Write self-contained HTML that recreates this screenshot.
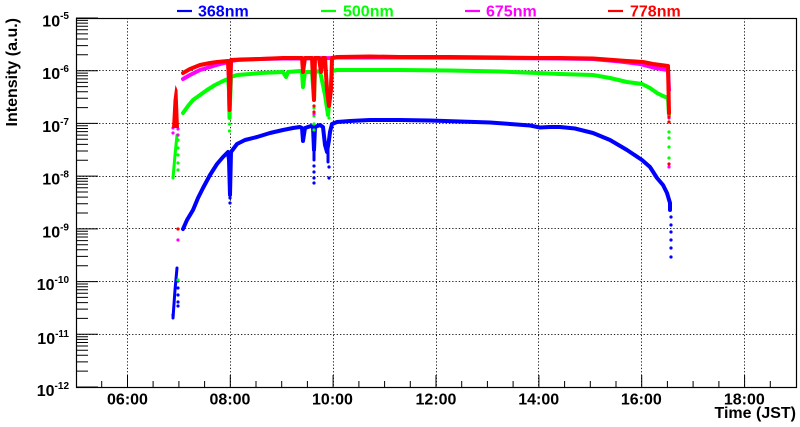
<!DOCTYPE html>
<html><head><meta charset="utf-8"><style>
html,body{margin:0;padding:0;background:#fff;}
svg{display:block;}
text{font-family:"Liberation Sans",Arial,sans-serif;font-weight:bold;}
</style></head><body>
<svg width="800" height="427" viewBox="0 0 800 427" xmlns="http://www.w3.org/2000/svg">
<rect width="800" height="427" fill="#fff"/>
<!-- grid -->
<g stroke="#222" stroke-width="1" stroke-dasharray="1.3 2" fill="none">
<path d="M127.5,18V387M230.5,18V387M333.5,18V387M436.5,18V387M538.5,18V387M641.5,18V387M744.5,18V387"/>
<path d="M76,334.5H796M76,281.5H796M76,228.5H796M76,176.5H796M76,123.5H796M76,70.5H796"/>
</g>
<!-- ticks -->
<g stroke="#000" stroke-width="1" fill="none">
<path d="M76,387h22M76,334.3h22M76,281.6h22M76,228.9h22M76,176.1h22M76,123.4h22M76,70.7h22M76,18h22"/>
<path d="M76,371.1h12M76,361.9h12M76,355.3h12M76,350.2h12M76,346h12M76,342.5h12M76,339.4h12M76,336.7h12
M76,318.4h12M76,309.1h12M76,302.6h12M76,297.4h12M76,293.3h12M76,289.7h12M76,286.7h12M76,284h12
M76,265.7h12M76,256.4h12M76,249.8h12M76,244.7h12M76,240.6h12M76,237h12M76,234h12M76,231.3h12
M76,213h12M76,203.7h12M76,197.1h12M76,192h12M76,187.8h12M76,184.3h12M76,181.3h12M76,178.6h12
M76,160.3h12M76,151h12M76,144.4h12M76,139.3h12M76,135.1h12M76,131.6h12M76,128.5h12M76,125.8h12
M76,107.6h12M76,98.3h12M76,91.7h12M76,86.6h12M76,82.4h12M76,78.9h12M76,75.8h12M76,73.1h12
M76,54.8h12M76,45.6h12M76,39h12M76,33.9h12M76,29.7h12M76,26.2h12M76,23.1h12M76,20.4h12"/>
<path d="M101.7,387v-6M153.1,387v-6M178.9,387v-6M204.6,387v-6M256,387v-6M281.7,387v-6M307.4,387v-6M358.9,387v-6M384.6,387v-6M410.3,387v-6M461.7,387v-6M487.4,387v-6M513.1,387v-6M564.6,387v-6M590.3,387v-6M616,387v-6M667.4,387v-6M693.1,387v-6M718.9,387v-6M770.3,387v-6"/>
<path d="M127.5,387v-12M230.3,387v-12M333.1,387v-12M436,387v-12M538.9,387v-12M641.7,387v-12M744.6,387v-12"/>
</g>
<!-- frame -->
<rect x="76.5" y="18.5" width="720" height="369" fill="none" stroke="#000" stroke-width="1.2"/>

<!-- series: blue 368nm -->
<g fill="none" stroke-linejoin="round" stroke-linecap="round">
<path stroke="#0000ff" stroke-width="4" d="M183,229 L187,220 L193,210 L198,198 L203,188 L210,175 L217,164 L223,157 L228,152 L229,160 L230,195 L231,152 L237,144 L245,140 L257,137 L270,133 L283,130 L293,128 L300,127 L302,128 L303,141 L305,128 L311,126 L313,127 L314,150 L315,127 L320,125 L323,127 L325,145 L327,152 L329,140 L330,132 L332,124 L337,122 L350,121 L370,120 L400,120 L430,120.5 L460,121.5 L490,122.5 L510,124 L530,125.5 L540,127.5 L550,127 L560,127 L575,128.5 L593,133 L610,140 L627,150 L642,160 L650,167 L657,178 L663,185 L667,193 L670,203 L670,210"/>
<path stroke="#0000ff" stroke-width="3" d="M177,268 L175,290 L173,318"/>
<path stroke="#0000ff" stroke-width="3" d="M314,150 L314,160 M328,150 L328,162"/>
</g>
<g fill="#0000ff">
<circle cx="178" cy="281" r="1.6"/><circle cx="178" cy="288" r="1.6"/><circle cx="178" cy="295" r="1.6"/><circle cx="178" cy="302" r="1.6"/><circle cx="178" cy="306" r="1.6"/><circle cx="173" cy="315" r="1.6"/>
<circle cx="230" cy="198" r="1.6"/><circle cx="230" cy="203" r="1.6"/>
<circle cx="314" cy="166" r="1.6"/><circle cx="314" cy="172" r="1.6"/><circle cx="314" cy="178" r="1.6"/><circle cx="314" cy="183" r="1.6"/>
<circle cx="329" cy="167" r="1.6"/><circle cx="329" cy="178" r="1.6"/>
<circle cx="671" cy="217" r="1.6"/><circle cx="671" cy="225" r="1.6"/><circle cx="671" cy="232" r="1.6"/><circle cx="671" cy="240" r="1.6"/><circle cx="671" cy="248" r="1.6"/><circle cx="671" cy="257" r="1.6"/>
</g>

<!-- green 500nm -->
<g fill="none" stroke-linejoin="round" stroke-linecap="round">
<path stroke="#00ff00" stroke-width="4" d="M183,113 L188,106 L193,100 L200,95 L207,90 L215,85 L223,81 L228,79 L229,90 L229.5,118 L231,77 L237,75 L250,74 L260,73 L283,72 L286,77 L288,72 L300,71 L302,72 L303,87 L305,72 L312,72 L314,100 L315,72 L320,71 L325,95 L328,115 L330,95 L332,71 L337,70 L370,70 L400,70 L450,70.5 L500,71.5 L538,73 L560,74 L593,75 L610,78 L627,82 L642,84 L650,88 L657,93 L663,96 L668,98 L669,115"/>
<path stroke="#00ff00" stroke-width="3" d="M177,135 L175,155 L173,178"/>
</g>
<g fill="#00ff00">
<circle cx="178" cy="140" r="1.6"/><circle cx="178" cy="148" r="1.6"/><circle cx="178" cy="155" r="1.6"/><circle cx="178" cy="163" r="1.6"/><circle cx="178" cy="170" r="1.6"/><circle cx="178" cy="280" r="1.6"/>
<circle cx="229.5" cy="124" r="1.6"/><circle cx="229.5" cy="131" r="1.6"/>
<circle cx="314" cy="108" r="1.6"/><circle cx="314" cy="116" r="1.6"/><circle cx="314" cy="124" r="1.6"/><circle cx="314" cy="130" r="1.6"/>
<circle cx="329" cy="118" r="1.6"/>
<circle cx="669" cy="122" r="1.6"/><circle cx="669" cy="132" r="1.6"/><circle cx="669" cy="138" r="1.6"/><circle cx="669" cy="147" r="1.6"/><circle cx="669" cy="158" r="1.6"/>
</g>

<!-- magenta 675nm -->
<g fill="none" stroke-linejoin="round" stroke-linecap="round">
<path stroke="#ff00ff" stroke-width="4" d="M183,79 L190,75 L200,70 L210,67 L220,64 L228,62 L229,80 L229.5,108 L231,61 L237,60 L260,59 L283,58.5 L300,58.5 L332,58 L337,57.5 L400,57.5 L500,58 L560,58.5 L593,59 L620,61.5 L640,64 L655,68 L668,70 L669,90"/>
</g>
<g fill="#ff00ff">
<circle cx="173" cy="128" r="1.6"/><circle cx="173" cy="133" r="1.6"/><circle cx="178" cy="129" r="1.6"/><circle cx="178" cy="135" r="1.6"/><circle cx="178" cy="240" r="1.6"/>
<circle cx="669" cy="110" r="1.6"/><circle cx="669" cy="118" r="1.6"/><circle cx="669" cy="167" r="1.6"/>
<circle cx="314" cy="114" r="1.6"/>
</g>

<!-- red 778nm -->
<g fill="none" stroke-linejoin="round" stroke-linecap="round">
<path stroke="#ff0000" stroke-width="4" d="M183,73 L190,69 L200,65 L210,63 L217,62 L228,61 L229,80 L229.5,110 L231,60 L240,59.5 L260,59 L283,58 L300,58 L302,58 L303,72 L305,58 L312,58 L314,100 L315,58 L319,58 L321,72 L323,58 L325,58 L327,90 L329,106 L331,90 L332,58 L337,57 L370,56.5 L400,57 L450,57 L500,57.5 L538,58 L560,58 L593,58.5 L627,61 L643,62 L653,64 L668,66 L669,113"/>
</g>
<polygon fill="#ff0000" points="172,128 173.5,100 175.5,85 177.5,90 179,128"/>
<g fill="#ff0000">
<circle cx="178" cy="229" r="1.6"/>
<circle cx="314" cy="106" r="1.6"/><circle cx="314" cy="112" r="1.6"/>
<circle cx="669" cy="117" r="1.6"/><circle cx="669" cy="122" r="1.6"/><circle cx="669" cy="164" r="1.6"/>
</g>

<!-- y labels -->
<g font-size="16" text-anchor="end" fill="#000">
<text x="69" y="26.5">10<tspan dy="-7.5" font-size="10">-5</tspan></text>
<text x="69" y="79.2">10<tspan dy="-7" font-size="10">-6</tspan></text>
<text x="69" y="132">10<tspan dy="-7" font-size="10">-7</tspan></text>
<text x="69" y="184.6">10<tspan dy="-7" font-size="10">-8</tspan></text>
<text x="69" y="237.4">10<tspan dy="-7" font-size="10">-9</tspan></text>
<text x="69" y="290">10<tspan dy="-7" font-size="10">-10</tspan></text>
<text x="69" y="344">10<tspan dy="-7" font-size="10">-11</tspan></text>
<text x="69" y="396">10<tspan dy="-7" font-size="10">-12</tspan></text>
</g>
<!-- x labels -->
<g font-size="16" text-anchor="middle" fill="#000">
<text x="127.5" y="404.5">06:00</text>
<text x="230" y="404.5">08:00</text>
<text x="332.5" y="404.5">10:00</text>
<text x="436" y="404.5">12:00</text>
<text x="538.7" y="404.5">14:00</text>
<text x="641.3" y="404.5">16:00</text>
<text x="744.3" y="404.5">18:00</text>
</g>
<text x="796" y="418" font-size="16" text-anchor="end" fill="#000">Time (JST)</text>
<text transform="translate(17,18) rotate(-90)" font-size="16" text-anchor="end" fill="#000">Intensity (a.u.)</text>

<!-- legend -->
<g stroke-width="2.2">
<line x1="177" y1="11" x2="192" y2="11" stroke="#0000ff"/>
<line x1="321" y1="11" x2="336" y2="11" stroke="#00ff00"/>
<line x1="465" y1="11" x2="480" y2="11" stroke="#ff00ff"/>
<line x1="608" y1="11" x2="623" y2="11" stroke="#ff0000"/>
</g>
<g font-size="16">
<text x="198" y="16.5" fill="#0000ff">368nm</text>
<text x="343" y="16.5" fill="#00ff00">500nm</text>
<text x="486" y="16.5" fill="#ff00ff">675nm</text>
<text x="630" y="16.5" fill="#ff0000">778nm</text>
</g>
</svg>
</body></html>
